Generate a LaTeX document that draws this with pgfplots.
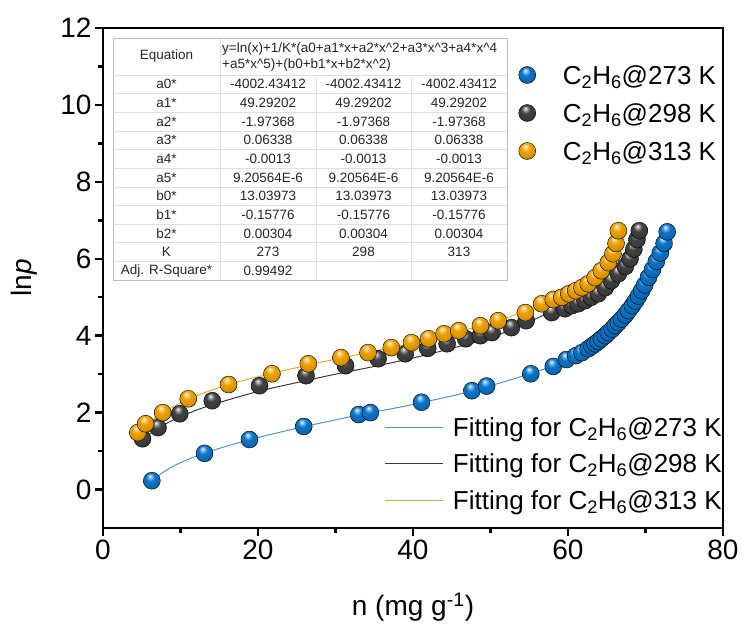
\documentclass[border=0pt]{standalone}
\usepackage{pgfplots}
\pgfplotsset{compat=1.18}
\usepackage{fontspec}
\setmainfont{Liberation Sans}
\definecolor{cA}{HTML}{0A74C8}
\definecolor{cB}{HTML}{404040}
\definecolor{cC}{HTML}{EEA000}
\definecolor{lA}{HTML}{4A98CC}
\definecolor{lB}{HTML}{3A3A3A}
\definecolor{lC}{HTML}{E8AA30}
\definecolor{tgrid}{HTML}{E0E0E0}
\definecolor{tframe}{HTML}{BEBEBE}
\makeatletter
\pgfdeclareradialshading[tikz@ball]{ball}{\pgfqpoint{-6bp}{14bp}}{%
  color(0bp)=(tikz@ball!5!white);
  color(6bp)=(tikz@ball!55!white);
  color(13bp)=(tikz@ball);
  color(24bp)=(tikz@ball!92!black);
  color(34bp)=(tikz@ball!70!black);
  color(50bp)=(tikz@ball!55!black)}
\makeatother
\pgfplotsset{
  base/.style={
    at={(0pt,0pt)}, anchor=south west,
    width=620pt, height=500pt, scale only axis,
    xmin=0, xmax=80, ymin=-1, ymax=12,
  },
  lfont/.style={font=\fontsize{26}{30}\selectfont},
  ballplot/.style={only marks, mark=ball, mark size=8.5pt,
    mark options={ball color=#1, draw=none},
    legend image code/.code={\pgfpathrectangle{\pgfpoint{-8.5pt}{-8.5pt}}{\pgfpoint{17pt}{17pt}}\pgfusepath{discard}%
      \draw[##1] plot coordinates {(0pt,0pt)};}},
  fitplot/.style={no marks, smooth, line width=1pt, color=#1,
    legend image code/.code={\draw[##1] (0pt,0pt) -- (58pt,0pt);}},
}
\begin{document}
\begin{tikzpicture}
\path[use as bounding box] (-103pt,-113pt) rectangle (644pt,528pt);
% fitted curves (drawn first, below the spheres)
\begin{axis}[base, hide axis,
  legend cell align=left,
  legend style={at={(axis description cs:0.4548,0.227)}, anchor=north west,
    draw=none, fill=none, inner sep=0pt, outer sep=0pt,
    row sep=11.5pt, column sep=9pt, lfont,
    nodes={inner sep=0pt, text height=21.8pt, text depth=3.2pt}},
]
\addplot[fitplot=lA] coordinates {(6.3,0.23)(8,0.48)(10,0.70)(13,0.94)(16,1.13)(19,1.30)(22,1.45)(26,1.64)(30,1.81)(34,1.98)(38,2.13)(42,2.30)(46,2.48)(50,2.70)(54,2.94)(57,3.14)(60,3.38)(62,3.60)(64,3.88)(66,4.24)(68,4.70)(69.5,5.15)(71,5.75)(72.2,6.3)(72.9,6.7)};
\addlegendentry{Fitting for C\textsubscript{2}H\textsubscript{6}@273 K}
\addplot[fitplot=lB] coordinates {(5.1,1.3)(7,1.58)(10,1.9)(14,2.2)(20,2.55)(25,2.78)(30,3.0)(35,3.2)(40,3.42)(45,3.67)(50,3.95)(54,4.27)(57,4.55)(60,4.85)(62,5.08)(64,5.35)(66,5.7)(67.5,6.05)(68.5,6.35)(69.2,6.7)};
\addlegendentry{Fitting for C\textsubscript{2}H\textsubscript{6}@298 K}
\addplot[fitplot=lC] coordinates {(4.5,1.45)(6,1.75)(8,2.03)(11,2.35)(16,2.72)(22,3.03)(27,3.26)(31,3.43)(35,3.6)(40,3.82)(45,4.06)(50,4.33)(54,4.6)(57,4.86)(60,5.12)(62,5.35)(64,5.65)(65.5,6.0)(66.6,6.7)};
\addlegendentry{Fitting for C\textsubscript{2}H\textsubscript{6}@313 K}
\end{axis}
% data spheres and frame
\begin{axis}[base,
  axis line style={line width=2.5pt},
  every tick/.style={black, line width=2.5pt},
  tick align=outside, tick pos=left,
  major tick length=8pt, minor tick length=5pt,
  xtick={0,20,40,60,80}, ytick={0,2,4,6,8,10,12},
  minor x tick num=1, minor y tick num=1,
  /pgf/number format/assume math mode=true,
  ticklabel style={font=\fontsize{28}{30}\selectfont},
  xlabel={n (mg g\textsuperscript{-1})},
  ylabel={ln\textit{p}},
  label style={font=\fontsize{28}{30}\selectfont},
  xlabel style={at={(axis description cs:0.5,-0.158)}, anchor=center},
  ylabel style={at={(axis description cs:-0.1274,0.5)}, anchor=center},
  legend cell align=left,
  legend style={at={(axis description cs:0.6702,0.931)}, anchor=north west,
    draw=none, fill=none, inner sep=0pt, outer sep=0pt,
    row sep=13pt, column sep=27pt, lfont,
    nodes={inner sep=0pt, text height=21.8pt, text depth=3.2pt}},
]
\addplot[ballplot=cA] coordinates {(6.3,0.23)(13.1,0.94)(18.9,1.3)(25.9,1.64)(33,1.95)(34.5,2.0)(41.1,2.27)(47.6,2.57)(49.5,2.69)(55.2,3.01)(58.1,3.2)(59.8,3.38)(61,3.48)(61.8,3.56)(62.6,3.66)(63.1,3.73)(63.5,3.79)(63.9,3.85)(64.3,3.92)(64.8,4.0)(65.2,4.08)(65.7,4.17)(66.1,4.26)(66.5,4.34)(66.9,4.43)(67.4,4.54)(67.8,4.65)(68.3,4.78)(68.7,4.9)(69.1,5.03)(69.5,5.17)(69.9,5.32)(70.4,5.52)(70.9,5.72)(71.4,5.93)(71.9,6.15)(72.4,6.4)(72.8,6.7)};
\addlegendentry{C\textsubscript{2}H\textsubscript{6}@273 K}
\addplot[ballplot=cB] coordinates {(5.1,1.32)(7.1,1.61)(9.9,1.97)(14.1,2.31)(20.2,2.7)(26.2,2.96)(31.3,3.22)(35.5,3.4)(39,3.53)(41.9,3.67)(44.4,3.79)(46.8,3.92)(48.7,4.0)(50.2,4.08)(52.7,4.21)(54.6,4.39)(57.9,4.6)(59.6,4.7)(60.5,4.78)(61.3,4.83)(62.2,4.91)(63,5.0)(63.9,5.09)(64.8,5.25)(65.6,5.43)(66.5,5.61)(67.4,5.8)(68,6.0)(68.5,6.25)(68.9,6.5)(69.2,6.73)};
\addlegendentry{C\textsubscript{2}H\textsubscript{6}@298 K}
\addplot[ballplot=cC] coordinates {(4.5,1.48)(5.5,1.71)(7.7,2.0)(11,2.36)(16.2,2.73)(21.8,3.01)(26.5,3.27)(30.7,3.43)(34.2,3.56)(37.2,3.69)(39.8,3.82)(42,3.92)(44,4.05)(45.9,4.13)(48.7,4.26)(51,4.39)(54.5,4.6)(56.6,4.83)(58.1,4.94)(59.2,5.0)(60.1,5.09)(61,5.17)(61.8,5.25)(62.6,5.35)(63.5,5.51)(64.3,5.69)(65.2,5.9)(65.8,6.13)(66.2,6.4)(66.5,6.73)};
\addlegendentry{C\textsubscript{2}H\textsubscript{6}@313 K}
\end{axis}
% inset fit table
\begin{scope}[x=1pt, y=1pt, font=\fontsize{13.5}{15}\selectfont, text=black!85]
\fill[white] (10,248) rectangle (404,490);
\foreach \k in {1,...,10} \draw[tgrid, line width=0.6pt] (10,{453-\k*18.636}) -- (404,{453-\k*18.636});
\draw[tgrid, line width=0.6pt] (10,453) -- (404,453);
\draw[tgrid, line width=0.6pt] (117,248) -- (117,490);
\draw[tgrid, line width=0.6pt] (213,248) -- (213,453);
\draw[tgrid, line width=0.6pt] (308,248) -- (308,453);
\draw[tframe, line width=0.8pt] (10,248) rectangle (404,490);
\node at (63.5,471.5) {Equation};
\node[anchor=west, inner sep=0pt] at (119,479) {y=ln(x)+1/K*(a0+a1*x+a2*x\textasciicircum 2+a3*x\textasciicircum 3+a4*x\textasciicircum 4};
\node[anchor=west, inner sep=0pt] at (119,463) {+a5*x\textasciicircum 5)+(b0+b1*x+b2*x\textasciicircum 2)};
\foreach \lab/\val [count=\k] in {a0*/-4002.43412, a1*/49.29202, a2*/-1.97368, a3*/0.06338, a4*/-0.0013, a5*/9.20564E-6, b0*/13.03973, b1*/-0.15776, b2*/0.00304} {
  \node at (63.5,{453-(\k-0.5)*18.636}) {\lab};
  \node at (165,{453-(\k-0.5)*18.636}) {\val};
  \node at (260.5,{453-(\k-0.5)*18.636}) {\val};
  \node at (356,{453-(\k-0.5)*18.636}) {\val};
}
\node at (63.5,{453-9.5*18.636}) {K};
\node at (165,{453-9.5*18.636}) {273};
\node at (260.5,{453-9.5*18.636}) {298};
\node at (356,{453-9.5*18.636}) {313};
\node at (63.5,{453-10.5*18.636}) {Adj. R-Square*};
\node at (165,{453-10.5*18.636}) {0.99492};
\end{scope}
\end{tikzpicture}
\end{document}
